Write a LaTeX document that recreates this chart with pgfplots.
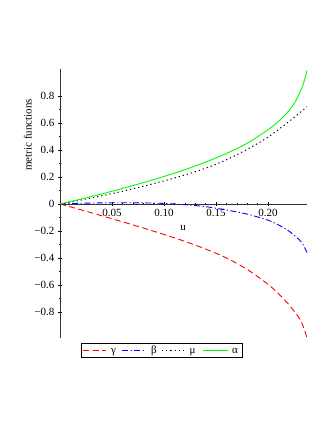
\documentclass[border=0pt]{standalone}
\usepackage{fontspec}
\setmainfont{Liberation Serif}
\usepackage{pgfplots}
\pgfplotsset{compat=1.18}

\newcommand{\lblfont}{\fontsize{11}{13}\selectfont}
\tikzset{
    gam/.style={red, line width=0.9pt, dash pattern=on 6pt off 3.5pt},
    bet/.style={blue, line width=0.9pt, dash pattern=on 6pt off 2.5pt on 1.2pt off 2.5pt},
    mu/.style={black, line width=1pt, dash pattern=on 1.2pt off 3pt},
    alp/.style={green, line width=0.9pt},
}

\begin{document}
\begin{tikzpicture}[x=1pt,y=1pt]
\begin{axis}[
    at={(60pt,92pt)}, anchor=south west,
    scale only axis,
    width=247pt, height=269pt,
    axis lines=middle,
    xmin=0, xmax=0.2375,
    ymin=-0.993, ymax=1.0,
    xtick={0.05,0.10,0.15,0.20},
    xticklabels={0.05,0.10,0.15,0.20},
    ytick={-0.8,-0.6,-0.4,-0.2,0,0.2,0.4,0.6,0.8},
    yticklabels={−0.8,−0.6,−0.4,−0.2,0,0.2,0.4,0.6,0.8},
    minor x tick num=4,
    minor y tick num=1,
    hide obscured x ticks=false,
    hide obscured y ticks=false,
    tick align=center,
    major tick length=4pt,
    minor tick length=2.5pt,
    tick style={black, line width=0.6pt},
    axis line style={-, black!80, line width=0.9pt},
    tick label style={font=\lblfont},
    xlabel={u},
    ylabel={metric functions},
    every axis x label/.style={at={(axis description cs:0.498,0.409)}, anchor=center, font=\lblfont},
    every axis y label/.style={at={(axis description cs:-0.13,0.755)}, anchor=center, rotate=90, font=\lblfont},
    clip=false,
]
% gamma
\addplot[gam, smooth] coordinates {
    (0,0) (0.02,-0.043) (0.04,-0.087) (0.06,-0.132) (0.08,-0.178) (0.10,-0.226)
    (0.12,-0.277) (0.14,-0.334) (0.16,-0.40) (0.18,-0.485) (0.20,-0.595)
    (0.21,-0.665) (0.22,-0.745) (0.23,-0.845) (0.234,-0.91) (0.2375,-0.993)
};
% beta
\addplot[bet, smooth] coordinates {
    (0,0) (0.02,0.005) (0.04,0.008) (0.06,0.009) (0.08,0.008) (0.10,0.004)
    (0.12,-0.005) (0.14,-0.02) (0.16,-0.045) (0.18,-0.075) (0.20,-0.12)
    (0.21,-0.155) (0.22,-0.20) (0.23,-0.265) (0.234,-0.305) (0.2375,-0.36)
};
% mu
\addplot[mu, smooth] coordinates {
    (0,0) (0.02,0.029) (0.04,0.06) (0.06,0.094) (0.08,0.131) (0.10,0.171)
    (0.12,0.215) (0.14,0.265) (0.16,0.327) (0.18,0.405) (0.20,0.495)
    (0.22,0.61) (0.2375,0.72)
};
% alpha
\addplot[alp, smooth] coordinates {
    (0,0) (0.02,0.036) (0.04,0.074) (0.06,0.115) (0.08,0.158) (0.10,0.204)
    (0.12,0.254) (0.14,0.31) (0.16,0.374) (0.18,0.45) (0.20,0.55)
    (0.21,0.612) (0.215,0.648) (0.22,0.69) (0.226,0.755) (0.23,0.815)
    (0.234,0.89) (0.2375,0.99)
};
\end{axis}
% legend box (pgfplots' own legend came out uncoloured here)
\draw[black, line width=0.6pt] (81.7,72.3) rectangle (242.7,86.7);
\draw[gam] (83,79.5) -- (106,79.5);
\node[font=\lblfont, inner sep=0pt, anchor=base] at (113.5,76.3) {γ};
\draw[bet] (122,79.5) -- (146,79.5);
\node[font=\lblfont, inner sep=0pt, anchor=base] at (154,76.3) {β};
\draw[mu] (162,79.5) -- (184,79.5);
\node[font=\lblfont, inner sep=0pt, anchor=base] at (192.5,76.3) {μ};
\draw[alp] (203,79.5) -- (228,79.5);
\node[font=\lblfont, inner sep=0pt, anchor=base] at (235,76.3) {α};
\path (0,0) rectangle (332,430);
\end{tikzpicture}
\end{document}
